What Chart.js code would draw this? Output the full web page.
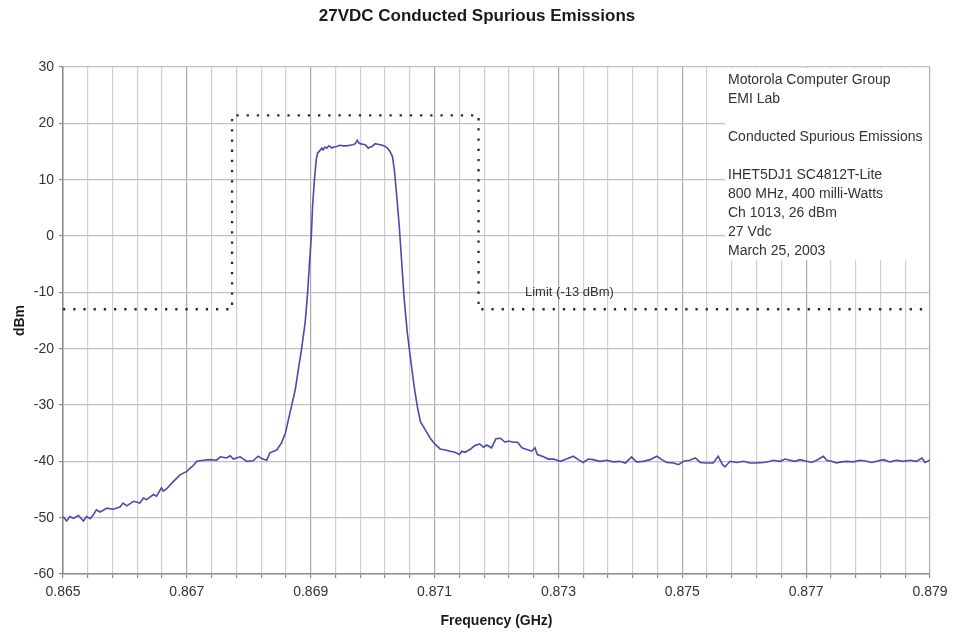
<!DOCTYPE html>
<html>
<head>
<meta charset="utf-8">
<title>27VDC Conducted Spurious Emissions</title>
<script src="https://cdn.jsdelivr.net/npm/chart.js@4.4.1/dist/chart.umd.min.js"></script>
<style>
  html, body { margin: 0; padding: 0; background: #ffffff; }
  #wrap { width: 954px; height: 633px; }
</style>
</head>
<body>
<div id="wrap"><canvas id="c" width="954" height="633"></canvas></div>
<script>
// Measured spectrum: frequency (GHz) and level (dBm)
const freqGHz = [
  0.86500, 0.86506, 0.86511, 0.86517, 0.86525, 0.86533, 0.86538, 0.86544, 0.86549, 0.86554,
  0.86560, 0.86571, 0.86581, 0.86592, 0.86597, 0.86603, 0.86614, 0.86624, 0.86630, 0.86635,
  0.86646, 0.86651, 0.86659, 0.86662, 0.86667, 0.86678, 0.86689, 0.86700, 0.86705, 0.86710,
  0.86716, 0.86727, 0.86737, 0.86748, 0.86754, 0.86764, 0.86770, 0.86775, 0.86786, 0.86797,
  0.86807, 0.86815, 0.86823, 0.86829,
  0.86834, 0.86845, 0.86853, 0.86859, 0.86864, 0.86869, 0.86875, 0.86880, 0.86885, 0.86891,
  0.86895, 0.86898, 0.86901, 0.86903, 0.86906, 0.86909, 0.86911, 0.86915, 0.86918, 0.86920,
  0.86923, 0.86926, 0.86929, 0.86931, 0.86934, 0.86937, 0.86942, 0.86947, 0.86953, 0.86958,
  0.86963, 0.86968, 0.86972, 0.86975, 0.86978, 0.86980, 0.86984, 0.86988, 0.86993, 0.86996,
  0.86999, 0.87004, 0.87008, 0.87012, 0.87016, 0.87020, 0.87024, 0.87028, 0.87032, 0.87035,
  0.87039, 0.87043, 0.87047, 0.87051, 0.87056, 0.87062, 0.87067, 0.87072, 0.87077,
  0.87085, 0.87093, 0.87101, 0.87109, 0.87117, 0.87125, 0.87133, 0.87140, 0.87144, 0.87149,
  0.87157, 0.87165, 0.87173, 0.87179, 0.87184, 0.87192, 0.87199, 0.87206, 0.87214, 0.87219,
  0.87227, 0.87234, 0.87241, 0.87249, 0.87257, 0.87262, 0.87266, 0.87276, 0.87284, 0.87292,
  0.87303, 0.87313, 0.87324, 0.87332, 0.87340, 0.87348, 0.87356,
  0.87367, 0.87378, 0.87389, 0.87399, 0.87408, 0.87418, 0.87426, 0.87437, 0.87448, 0.87459,
  0.87467, 0.87475, 0.87486, 0.87494, 0.87502, 0.87512, 0.87521, 0.87529, 0.87539, 0.87550,
  0.87558, 0.87565, 0.87569, 0.87577, 0.87588, 0.87599, 0.87609, 0.87620, 0.87631, 0.87642,
  0.87647, 0.87658, 0.87666, 0.87674, 0.87682, 0.87690, 0.87701, 0.87709, 0.87717, 0.87728,
  0.87733, 0.87741, 0.87749, 0.87757, 0.87765, 0.87776, 0.87787, 0.87798, 0.87806, 0.87814,
  0.87825, 0.87835, 0.87846, 0.87857, 0.87868, 0.87878, 0.87887, 0.87892, 0.87900
];
const levelDbm = [
  -49.8, -50.6, -49.8, -50.1, -49.6, -50.6, -49.8, -50.2, -49.5, -48.6,
  -49.0, -48.3, -48.5, -48.1, -47.4, -47.9, -47.1, -47.4, -46.5, -46.8,
  -45.9, -46.2, -44.7, -45.3, -44.9, -43.6, -42.4, -41.8, -41.2, -40.8,
  -40.0, -39.8, -39.7, -39.8, -39.2, -39.4, -39.0, -39.6, -39.2, -40.0,
  -39.9, -39.1, -39.6, -39.8,
  -38.5, -38.0, -36.7, -35.0, -32.6, -30.2, -27.3, -23.7, -20.2, -15.4,
  -10.1, -4.8, -0.1, 5.3, 10.0, 13.6, 14.7, 15.2, 15.6, 15.3,
  15.8, 15.6, 16.0, 15.9, 15.6, 15.8, 15.9, 16.1, 16.0, 16.0,
  16.1, 16.2, 16.4, 17.0, 16.5, 16.4, 16.3, 16.2, 15.6, 15.8,
  15.9, 16.4, 16.3, 16.2, 16.1, 15.9, 15.6, 15.0, 14.1, 11.8,
  7.0, 1.7, -4.8, -11.3, -17.2, -22.5, -26.7, -30.2, -32.9,
  -34.4, -35.9, -37.0, -37.8, -38.0, -38.2, -38.4, -38.8, -38.2, -38.4,
  -37.9, -37.2, -36.9, -37.5, -37.1, -37.6, -36.0, -35.9, -36.6, -36.4,
  -36.6, -36.6, -37.6, -37.9, -38.2, -37.6, -38.8, -39.2, -39.6, -39.6,
  -40.0, -39.6, -39.1, -39.7, -40.2, -39.6, -39.7,
  -40.0, -39.8, -40.1, -40.0, -40.3, -39.2, -40.1, -40.0, -39.7, -39.1,
  -39.7, -40.2, -40.3, -40.6, -40.0, -39.8, -39.4, -40.2, -40.3, -40.3,
  -39.1, -40.6, -41.0, -40.0, -40.2, -40.0, -40.3, -40.3, -40.2, -40.0,
  -39.8, -40.0, -39.6, -39.8, -40.0, -39.7, -40.0, -40.2, -39.8, -39.1,
  -39.8, -40.0, -40.3, -40.1, -40.0, -40.1, -39.8, -40.0, -40.2, -40.0,
  -39.7, -40.1, -39.8, -40.0, -39.8, -40.0, -39.4, -40.2, -39.8
];

// Emission limit mask
const limitFreqGHz = [0.86500, 0.86773, 0.86773, 0.87171, 0.87171, 0.87900];
const limitDbm     = [-13, -13, 21.4, 21.4, -13, -13];
const limitLabel = 'Limit (-13 dBm)';
const limitLabelAt = { x: 0.87246, y: -10 };

// Axis ranges and ticks
const xMin = 0.865, xMax = 0.879, xGridStep = 0.0004, xLabelEvery = 5;
const yMin = -60, yMax = 30, yStep = 10;

const chartTitle = '27VDC Conducted Spurious Emissions';

// Test information block
const infoLines = [
  'Motorola Computer Group',
  'EMI Lab',
  '',
  'Conducted Spurious Emissions',
  '',
  'IHET5DJ1 SC4812T-Lite',
  '800 MHz, 400 milli-Watts',
  'Ch 1013, 26 dBm',
  '27 Vdc',
  'March 25, 2003'
];

const FONT = '"Liberation Sans", Arial, Helvetica, sans-serif';

const xGridValues = [];
for (let i = 0; i <= Math.round((xMax - xMin) / xGridStep); i++) {
  xGridValues.push(+(xMin + i * xGridStep).toFixed(4));
}

const tracePoints = freqGHz.map((f, i) => ({ x: f, y: levelDbm[i] }));
const limitPoints = limitFreqGHz.map((f, i) => ({ x: f, y: limitDbm[i] }));

// Page title centred on the whole canvas, info panel, limit caption
const decorations = {
  id: 'decorations',
  beforeDatasetsDraw(chart) {
    const { ctx, chartArea: ca, width } = chart;
    ctx.save();
    ctx.fillStyle = '#1a1a1a';
    ctx.font = 'bold 17px ' + FONT;
    ctx.textAlign = 'center';
    ctx.textBaseline = 'middle';
    ctx.fillText(chartTitle, width / 2, 16.5);

    ctx.fillStyle = '#ffffff';
    ctx.fillRect(ca.right - 205, ca.top + 1, 204, 192);
    ctx.fillStyle = '#333333';
    ctx.font = '14px ' + FONT;
    ctx.textAlign = 'left';
    infoLines.forEach((t, i) => {
      if (t) ctx.fillText(t, ca.right - 202, ca.top + 13 + i * 19);
    });
    ctx.restore();
  },
  afterDatasetsDraw(chart) {
    const { ctx, scales } = chart;
    ctx.save();
    ctx.fillStyle = '#333333';
    ctx.font = '13px ' + FONT;
    ctx.textAlign = 'left';
    ctx.textBaseline = 'middle';
    ctx.fillText(limitLabel, scales.x.getPixelForValue(limitLabelAt.x), scales.y.getPixelForValue(limitLabelAt.y));
    ctx.restore();
  }
};

new Chart(document.getElementById('c'), {
  type: 'line',
  data: {
    datasets: [
      {
        label: 'Conducted emissions',
        data: tracePoints,
        borderColor: '#4a4ab0',
        borderWidth: 1.6,
        pointRadius: 0,
        tension: 0,
        fill: false,
        order: 1
      },
      {
        label: 'Limit',
        data: limitPoints,
        borderColor: '#2a2a2a',
        borderWidth: 2.3,
        borderDash: [2.3, 7.9],
        borderCapStyle: 'butt',
        pointRadius: 0,
        tension: 0,
        fill: false,
        order: 2
      }
    ]
  },
  options: {
    responsive: false,
    animation: false,
    events: [],
    layout: { padding: { left: 0, right: 24, top: 67, bottom: 0 } },
    plugins: {
      legend: { display: false },
      tooltip: { enabled: false },
      title: { display: false }
    },
    scales: {
      x: {
        type: 'linear',
        min: xMin,
        max: xMax,
        afterBuildTicks: s => { s.ticks = xGridValues.map(v => ({ value: v })); },
        afterFit: s => { s.height = 59; },
        ticks: {
          autoSkip: false,
          maxRotation: 0,
          minRotation: 0,
          padding: 6,
          color: '#333333',
          font: { family: FONT, size: 14 },
          callback: (v, i) => (i % xLabelEvery === 0 ? Number(v).toFixed(3) : '')
        },
        grid: {
          color: c => (c.index % xLabelEvery === 0 ? '#aaaaaa' : '#d0d0d0'),
          lineWidth: 1.2,
          drawTicks: true,
          tickLength: 4,
          tickColor: '#8a8a8a'
        },
        border: { display: true, color: '#8f8f8f', width: 1.5 },
        title: {
          display: true,
          text: 'Frequency (GHz)',
          color: '#1a1a1a',
          font: { family: FONT, size: 14, weight: 'bold' },
          padding: { top: 0, bottom: 3 }
        }
      },
      y: {
        type: 'linear',
        min: yMin,
        max: yMax,
        afterFit: s => { s.width = 63; },
        ticks: {
          stepSize: yStep,
          padding: 5,
          color: '#333333',
          font: { family: FONT, size: 14 }
        },
        grid: {
          color: '#c0c0c0',
          lineWidth: 1.2,
          drawTicks: true,
          tickLength: 4,
          tickColor: '#8a8a8a'
        },
        border: { display: true, color: '#8a8a8a', width: 1.5 },
        title: {
          display: true,
          text: 'dBm',
          color: '#1a1a1a',
          font: { family: FONT, size: 14, weight: 'bold' },
          padding: { top: 12, bottom: 0 }
        }
      }
    }
  },
  plugins: [decorations]
});
</script>
</body>
</html>
